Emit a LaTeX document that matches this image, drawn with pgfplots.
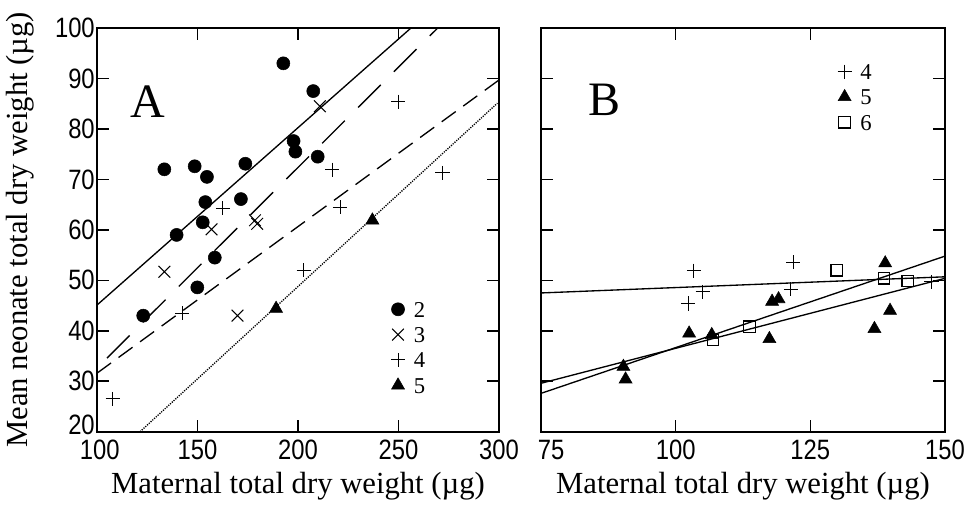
\documentclass[border=0pt]{standalone}
\usepackage{fontspec}
\setmainfont{Liberation Serif}
\newfontfamily\tickfont[FakeStretch=0.85]{Liberation Sans}
\usepackage{pgfplots}
\pgfplotsset{compat=1.18}

\pgfplotsset{
  panel/.style={
    scale only axis,
    height=302.8pt,
    ymin=20, ymax=100,
    ytick={20,30,...,100},
    axis line style={line width=1.2pt},
    every tick/.style={black, line width=1.2pt},
    major tick length=9pt,
    tick align=inside,
    xtick pos=both, ytick pos=both,
    xticklabel pos=lower, yticklabel pos=left,
    /pgf/number format/assume math mode=true,
    /pgf/number format/1000 sep={},
    tick label style={font=\tickfont\fontsize{21}{21}\selectfont},
    xticklabel style={inner sep=0pt, yshift=-6.2pt},
    yticklabel style={inner sep=0pt, xshift=-1.5pt},
    xlabel style={font=\fontsize{23}{27}\selectfont, at={(axis description cs:0.5,0)}, anchor=base, yshift=-46pt},
    legend style={draw=none, fill=none, font=\fontsize{17}{17}\selectfont,
      anchor=north west, inner sep=0pt, row sep=4pt, column sep=5pt,
      nodes={inner sep=1.5pt, text height=12pt, text depth=0pt}},
    legend cell align=left,
    legend image code/.code={\draw[#1] plot coordinates {(0pt,0pt)};},
    clip=false,
  },
  circ/.style={only marks, mark=*, mark size=4.9pt, black, mark options={fill=black}},
  crs/.style={only marks, mark=x, mark size=6.2pt, black, mark options={line width=0.75pt}},
  pls/.style={only marks, mark=+, mark size=5.3pt, black, mark options={line width=0.75pt}},
  tri/.style={only marks, mark=triangle*, mark size=5.6pt, black, mark options={fill=black}},
  sqr/.style={only marks, mark=square, mark size=4.3pt, black, mark options={line width=0.9pt}},
  reg/.style={black, line width=1pt, no marks, forget plot},
}

\begin{document}
\begin{tikzpicture}
\useasboundingbox (-72.75pt,-54.2pt) rectangle (650.25pt,323.8pt);

% Panel A
\begin{axis}[panel, at={(0pt,0pt)}, anchor=south west,
  width=301.5pt,
  xmin=100, xmax=300, xtick={100,150,...,300},
  xticklabels={\hspace*{4pt}100,150,200,250,300},
  yticklabels={\raisebox{11pt}{20},30,40,50,60,70,80,90,100},
  xlabel={Maternal total dry weight (\textmu g)},
  ylabel={Mean neonate total dry weight (\textmu g)},
  ylabel style={font=\fontsize{23}{27}\selectfont, at={(axis description cs:-0.174,0.5)}, anchor=base},
  legend style={at={(0.7306,0.3287)}},
]
\addplot[reg] coordinates {(100,45.1) (256.2,100)};
\addplot[reg, dash pattern=on 24pt off 14pt] coordinates {(105,34.6) (269.5,100)};
\addplot[reg, dash pattern=on 13pt off 7pt] coordinates {(100,31.6) (300,89.7)};
\addplot[reg, line width=1pt, dash pattern=on 0.9pt off 0.9pt] coordinates {(121.4,20) (299.2,85.1)};

\addplot[circ] coordinates {
(123.0,43.0) (133.5,72.0) (139.6,59.0) (148.6,72.6) (149.9,48.6) (152.6,61.5)
(153.9,65.5) (154.7,70.5) (158.6,54.5) (171.6,66.1) (173.8,73.1) (192.7,93.0)
(197.8,77.6) (198.7,75.5) (207.6,87.5) (209.8,74.5)};
\addlegendentry{2}
\addplot[crs] coordinates {
(133.5,51.7) (157.0,60.1) (169.9,43.0) (178.6,61.9) (179.7,61.2) (210.9,84.5)};
\addlegendentry{3}
\addplot[pls] coordinates {
(107.8,26.5) (142.4,43.5) (162.6,64.3) (202.8,52.0) (217.1,71.9) (220.9,64.5)
(249.9,85.4) (271.9,71.3)};
\addlegendentry{4}
\addplot[tri] coordinates {(189.1,44.4) (237.0,61.9)};
\addlegendentry{5}

\node[font=\fontsize{36}{36}\selectfont] at (axis cs:125.4,85.5) {A};
\end{axis}

% Panel B
\begin{axis}[panel, at={(333pt,0pt)}, anchor=south west,
  width=303pt,
  xmin=75, xmax=150, xtick={75,100,125,150},
  xticklabels={\hspace*{15pt}75,100,125,150},
  yticklabels={},
  xlabel={Maternal total dry weight (\textmu g)},
  legend style={at={(0.7334,0.9175)}},
]
\addplot[reg] coordinates {(75,47.5) (150,50.7)};
\addplot[reg] coordinates {(75,29.6) (150,50.4)};
\addplot[reg] coordinates {(75,27.6) (150,54.8)};

\addplot[pls] coordinates {
(102.3,45.4) (103.4,51.9) (105.0,47.7) (121.4,48.2) (121.8,53.6) (147.5,49.7)};
\addlegendentry{4}
\addplot[tri] coordinates {
(90.3,32.9) (90.7,30.4) (102.5,39.5) (106.7,39.2) (117.4,38.4) (117.9,45.8)
(119.1,46.3) (136.9,40.4) (138.9,53.4) (139.8,44.0)};
\addlegendentry{5}
\addplot[sqr] coordinates {
(106.9,38.2) (113.7,40.8) (129.9,52.0) (138.7,50.4) (143.1,49.9)};
\addlegendentry{6}

\node[font=\fontsize{36}{36}\selectfont] at (axis cs:86.8,85.7) {B};
\end{axis}
\end{tikzpicture}
\end{document}
